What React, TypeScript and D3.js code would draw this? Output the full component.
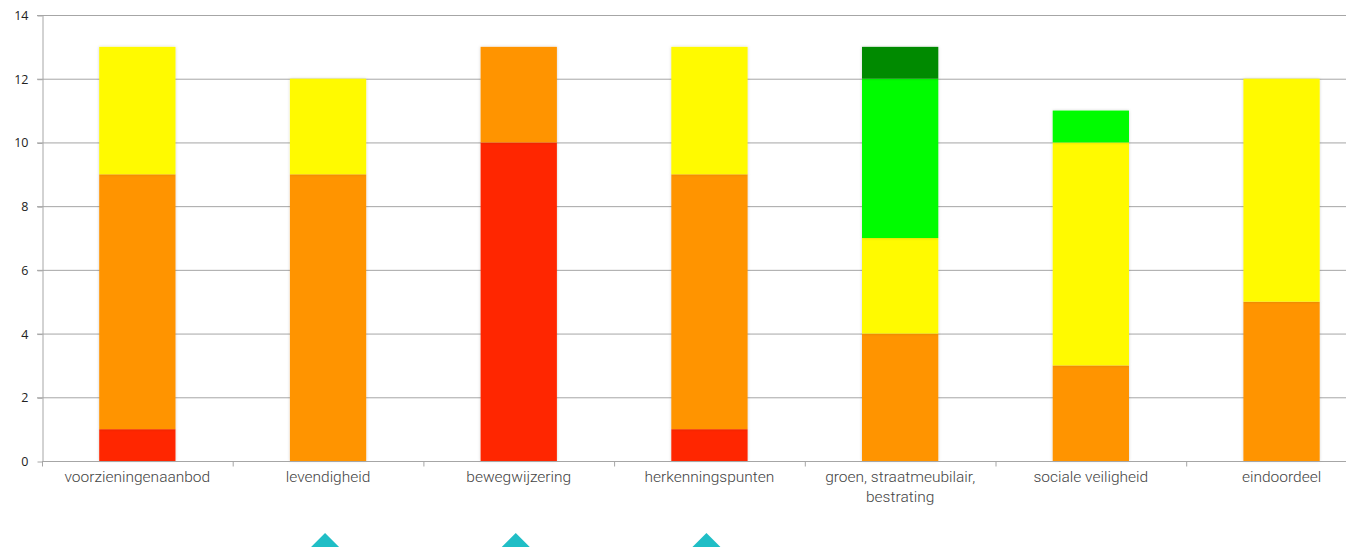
import React, { useEffect, useRef } from 'react';
import * as d3 from 'd3';

// categories along the x axis
const categories = [
    'voorzieningenaanbod',
    'levendigheid',
    'bewegwijzering',
    'herkenningspunten',
    'groen, straatmeubilair, bestrating',
    'sociale veiligheid',
    'eindoordeel',
];

// stacked counts per score class (bottom to top)
const rood = [1, 0, 10, 1, 0, 0, 0];
const oranje = [8, 9, 3, 8, 4, 3, 5];
const geel = [4, 3, 0, 4, 3, 7, 7];
const groen = [0, 0, 0, 0, 5, 1, 0];
const donkergroen = [0, 0, 0, 0, 1, 0, 0];

const seriesKeys = ['rood', 'oranje', 'geel', 'groen', 'donkergroen'];
const seriesColors = ['#ff2800', '#ff9400', '#fffa00', '#00fc00', '#008a00'];

const yTicks = [0, 2, 4, 6, 8, 10, 12, 14];

// decorative markers below the chart (index of category they sit under)
const markerCats = [1, 2, 3];

function drawChart(svgRoot: SVGSVGElement) {
    const svg = d3.select(svgRoot);
    svg.selectChildren().remove();

    const width = 1346;
    const height = 547;
    const margin = { top: 15, left: 42, bottom: 86 };
    const band = 190.7;

    const rows = categories.map((c, i) => ({
        cat: c,
        rood: rood[i],
        oranje: oranje[i],
        geel: geel[i],
        groen: groen[i],
        donkergroen: donkergroen[i],
    }));

    const x = d3.scaleBand<string>()
        .domain(categories)
        .range([margin.left, margin.left + band * categories.length])
        .paddingInner(0.6)
        .paddingOuter(0.3);

    const y = d3.scaleLinear().domain([0, 14]).range([height - margin.bottom, margin.top]);

    svg.attr('width', width).attr('height', height).attr('viewBox', [0, 0, width, height] as any);

    const defs = svg.append('defs');
    const f = defs.append('filter').attr('id', 'sh').attr('x', '-20%').attr('y', '-5%').attr('width', '140%').attr('height', '110%');
    f.append('feDropShadow').attr('dx', 0).attr('dy', 0).attr('stdDeviation', 1.5).attr('flood-color', '#000').attr('flood-opacity', 0.18);

    // gridlines
    svg.append('g')
        .selectAll('line')
        .data(yTicks.slice(1))
        .enter().append('line')
        .attr('x1', margin.left - 5)
        .attr('x2', width)
        .attr('y1', (d) => y(d) + 0.5)
        .attr('y2', (d) => y(d) + 0.5)
        .attr('stroke', '#a6a6a6')
        .attr('stroke-width', 1);

    // y axis
    const yAxis = svg.append('g')
        .attr('transform', `translate(${margin.left + 0.5},0.5)`)
        .call(d3.axisLeft(y).tickValues(yTicks).tickSize(5).tickSizeOuter(0));
    yAxis.select('.domain').attr('stroke', '#a6a6a6');
    yAxis.selectAll('.tick line').attr('stroke', '#a6a6a6');
    yAxis.selectAll('.tick text')
        .attr('x', -14)
        .attr('fill', '#222')
        .style('font-family', '"Open Sans", "Liberation Sans", Arial, sans-serif')
        .style('font-size', '12.5px');

    // stacked bars
    const stack = d3.stack<any>().keys(seriesKeys);
    const layers = stack(rows);
    svg.append('g')
        .selectAll('g')
        .data(layers)
        .enter().append('g')
        .attr('fill', (d, i) => seriesColors[i])
        .selectAll('rect')
        .data((d) => d.filter((s) => s[1] - s[0] > 0))
        .enter().append('rect')
        .attr('x', (d) => x(d.data.cat)!)
        .attr('width', x.bandwidth())
        .attr('y', (d) => y(d[1]))
        .attr('height', (d) => y(d[0]) - y(d[1]))
        .attr('filter', 'url(#sh)');

    // x axis
    const x0 = y(0) + 0.5;
    const xg = svg.append('g');
    xg.append('line')
        .attr('x1', margin.left).attr('x2', width)
        .attr('y1', x0).attr('y2', x0)
        .attr('stroke', '#a6a6a6');
    xg.selectAll('.tk')
        .data(d3.range(categories.length + 1))
        .enter().append('line')
        .attr('x1', (i) => margin.left + i * band + 0.5)
        .attr('x2', (i) => margin.left + i * band + 0.5)
        .attr('y1', x0).attr('y2', x0 + 5)
        .attr('stroke', '#a6a6a6');

    const labelWrap: Record<string, string[]> = {
        'groen, straatmeubilair, bestrating': ['groen, straatmeubilair,', 'bestrating'],
    };
    const labels = xg.selectAll('.lbl')
        .data(categories)
        .enter().append('text')
        .attr('text-anchor', 'middle')
        .attr('fill', '#444')
        .style('font-family', 'Roboto, sans-serif')
        .style('font-weight', 300)
        .style('font-size', '15.5px');
    labels.each(function (c) {
        const lines = labelWrap[c] || [c];
        const t = d3.select(this);
        lines.forEach((ln, k) => {
            t.append('tspan')
                .attr('x', x(c)! + x.bandwidth() / 2)
                .attr('y', x0 + 20 + k * 20)
                .text(ln);
        });
    });

    // teal markers cut off by the page bottom
    svg.append('g')
        .selectAll('path')
        .data(markerCats)
        .enter().append('path')
        .attr('d', (i) => {
            const cx = x(categories[i])! + x.bandwidth() / 2 - 3;
            const top = 533;
            return `M${cx},${top} L${cx + 16},${top + 16} L${cx},${top + 32} L${cx - 16},${top + 16} Z`;
        })
        .attr('fill', '#20bec6');
}

function Chart() {
    const svgRef = useRef<SVGSVGElement>(null);
    useEffect(() => {
        svgRef.current && drawChart(svgRef.current);
    }, []);
    return <svg ref={svgRef} style={{ display: 'block', overflow: 'hidden' }} />;
}

export default function App() {
    return (
        <div style={{ position: 'fixed', left: 0, top: 0, width: 1346, height: 547, background: '#fff', overflow: 'hidden' }}>
            <Chart />
        </div>
    );
}
